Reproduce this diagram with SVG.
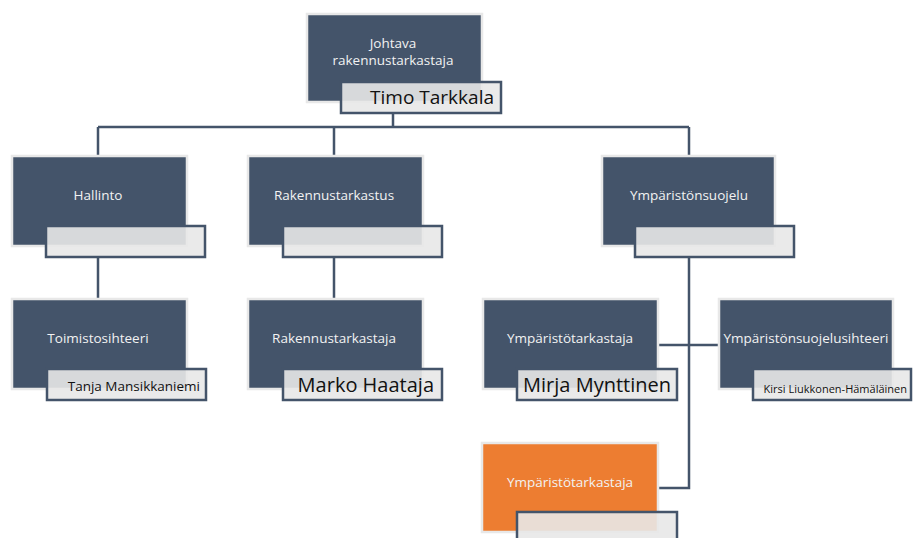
<svg xmlns="http://www.w3.org/2000/svg" width="913" height="538" viewBox="0 0 913 538">
<style>
.box{fill:#44546a;stroke:#e8e8e8;stroke-width:2.5}
.orange{fill:#ed7d31;stroke:#e8e8e8;stroke-width:2.5}
.name{fill:#e8e8e8;fill-opacity:0.9;stroke:#44546a;stroke-width:2.5}
.t{font-family:"Open Sans","Liberation Sans",sans-serif;font-size:13.5px;fill:#f2f2f2;text-anchor:middle}
.n{font-family:"Open Sans","Liberation Sans",sans-serif;fill:#111;text-anchor:end}
.c{fill:none;stroke:#44546a;stroke-width:2.5}
</style>
<rect width="913" height="538" fill="#fff"/>
<g id="connectors">
<path class="c" d="M393 113V127M98 127H689M98 127V156M334 127V156M689 127V156"/>
<path class="c" d="M98 257V299M334 257V299"/>
<path class="c" d="M689 257V488H658M658 345H720"/>
</g>
<g id="n-johtava">
<rect class="box" x="307" y="14" width="175" height="88"/>
<text class="t" x="393" y="48">Johtava</text>
<text class="t" x="393" y="65">rakennustarkastaja</text>
<rect class="name" x="341" y="82" width="160" height="31"/>
<text class="n" x="494" y="104" font-size="19">Timo Tarkkala</text>
</g>
<g id="n-hallinto">
<rect class="box" x="12" y="156" width="175" height="90"/>
<text class="t" x="98" y="200">Hallinto</text>
<rect class="name" x="46" y="226" width="159" height="31"/>
</g>
<g id="n-rakennustarkastus">
<rect class="box" x="248" y="156" width="175" height="90"/>
<text class="t" x="334" y="200">Rakennustarkastus</text>
<rect class="name" x="283" y="226" width="159" height="31"/>
</g>
<g id="n-ymparistonsuojelu">
<rect class="box" x="602" y="156" width="173" height="90"/>
<text class="t" x="689" y="200">Ympäristönsuojelu</text>
<rect class="name" x="635" y="226" width="159" height="31"/>
</g>
<g id="n-toimistosihteeri">
<rect class="box" x="12" y="299" width="175" height="90"/>
<text class="t" x="98" y="343">Toimistosihteeri</text>
<rect class="name" x="47" y="369" width="159" height="31"/>
<text class="n" x="200" y="391" font-size="13.5">Tanja Mansikkaniemi</text>
</g>
<g id="n-rakennustarkastaja">
<rect class="box" x="248" y="299" width="175" height="90"/>
<text class="t" x="334" y="343">Rakennustarkastaja</text>
<rect class="name" x="283" y="369" width="159" height="31"/>
<text class="n" x="434" y="392" font-size="20">Marko Haataja</text>
</g>
<g id="n-ymparistotarkastaja1">
<rect class="box" x="483" y="299" width="175" height="90"/>
<text class="t" x="570" y="343">Ympäristötarkastaja</text>
<rect class="name" x="517" y="369" width="160" height="31"/>
<text class="n" x="671" y="392" font-size="20">Mirja Mynttinen</text>
</g>
<g id="n-ymparistonsuojelusihteeri">
<rect class="box" x="719" y="299" width="174" height="90"/>
<text class="t" x="806" y="343">Ympäristönsuojelusihteeri</text>
<rect class="name" x="753" y="369" width="158" height="31"/>
<text class="n" x="907" y="393" font-size="11">Kirsi Liukkonen-Hämäläinen</text>
</g>
<g id="n-ymparistotarkastaja2">
<rect class="orange" x="482" y="443" width="176" height="89"/>
<text class="t" x="570" y="487">Ympäristötarkastaja</text>
<rect class="name" x="517" y="512" width="160" height="31"/>
</g>
</svg>
